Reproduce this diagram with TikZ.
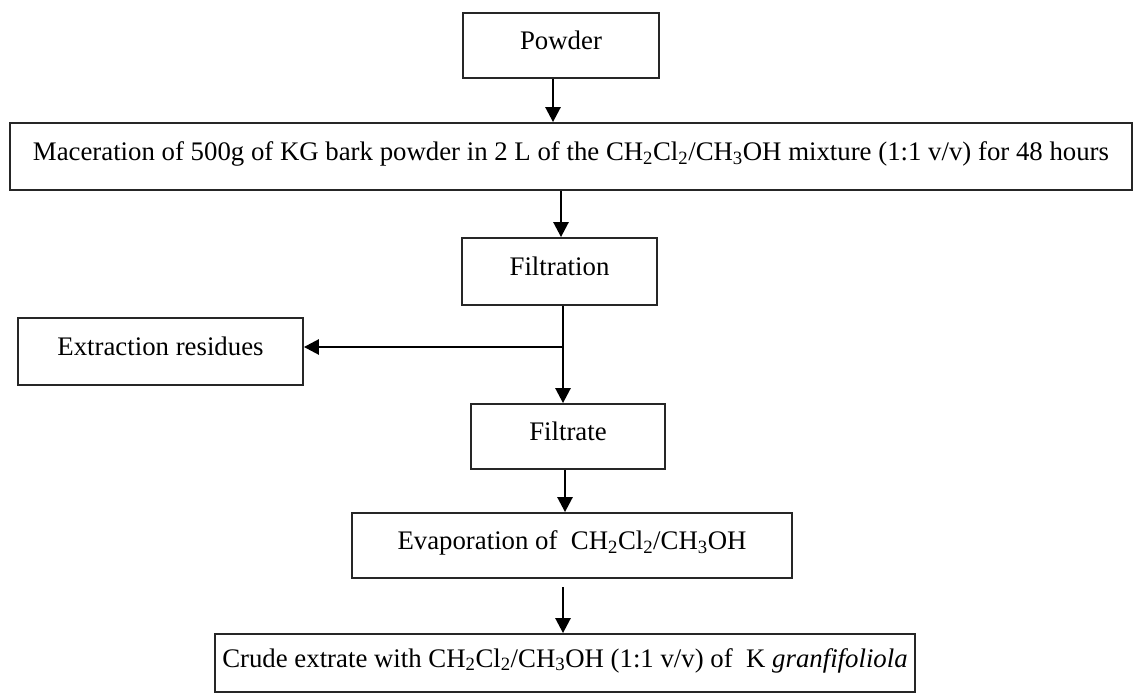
\documentclass[tikz,border=0pt]{standalone}
\usepackage{fontspec}
\setmainfont{Liberation Serif}
\usetikzlibrary{arrows.meta}
\tikzset{
  box/.style={draw=black!85, line width=1.8pt, rectangle, inner sep=0pt,
    font=\fontsize{26.8}{30}\selectfont, align=center,
    text height=18pt, text depth=10pt},
  flow/.style={line width=2.6pt, -{Triangle[width=15pt,length=15pt]}},
}
\newcommand{\sbs}[1]{\textsubscript{#1}}
\begin{document}
\begin{tikzpicture}[x=1pt,y=-1pt]
\useasboundingbox (0,0) rectangle (1135,695);
\node[box, minimum width=196pt, minimum height=65pt] (powder) at (561,45.5) {Powder};
\node[box, minimum width=1122pt, minimum height=67pt] (mac) at (571,156.5)
  {Maceration of 500g of KG bark powder in 2 L of the CH\sbs{2}Cl\sbs{2}/CH\sbs{3}OH mixture (1:1 v/v) for 48 hours};
\node[box, minimum width=195pt, minimum height=67pt] (filt) at (559.5,271.5) {Filtration};
\node[box, minimum width=285pt, minimum height=67pt] (ext) at (160.5,351.5) {Extraction residues};
\node[box, minimum width=194pt, minimum height=65pt] (filtrate) at (568,436.5) {Filtrate};
\node[box, minimum width=440pt, minimum height=65pt] (evap) at (572,545.5) {Evaporation of \ CH\sbs{2}Cl\sbs{2}/CH\sbs{3}OH};
\node[box, minimum width=700pt, minimum height=58pt] (crude) at (565,663) {Crude extrate with CH\sbs{2}Cl\sbs{2}/CH\sbs{3}OH (1:1 v/v) of \ K \textit{granfifoliola}};
\coordinate (c1) at (553,0);
\coordinate (c2) at (561,0);
\coordinate (br) at (563,347);
\coordinate (c4) at (565,0);
\coordinate (c5) at (563,587);
\draw[flow] (powder.south -| c1) -- (mac.north -| c1);
\draw[flow] (mac.south -| c2) -- (filt.north -| c2);
\draw[line width=2.6pt] (filt.south -| br) -- (br);
\draw[flow] (br) -- (filtrate.north -| br);
\draw[flow] (br) -- (br -| ext.east);
\draw[flow] (filtrate.south -| c4) -- (evap.north -| c4);
\draw[flow] (c5) -- (crude.north -| c5);
\end{tikzpicture}
\end{document}
